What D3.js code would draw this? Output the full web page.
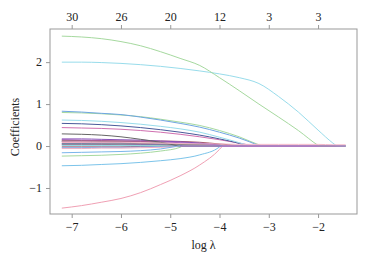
<!DOCTYPE html>
<html><head><meta charset="utf-8">
<script src="https://cdn.jsdelivr.net/npm/d3@7"></script>
<style>body{margin:0;background:#fff}svg{display:block}</style>
</head><body>
<svg id="c" width="367" height="257"></svg>
<script>
// log lambda grid
const logLambda = [-7.2,-6.8,-6.4,-6.0,-5.6,-5.2,-4.8,-4.4,-4.0,-3.6,-3.2,-2.8,-2.4,-2.0,-1.7,-1.44];
const bottomTicks = [-7,-6,-5,-4,-3,-2];
const topTickLabels = ["30","26","20","12","3","3"];
const yTicks = [-1,0,1,2];
// coefficient paths (one array per variable) and the log lambda where each reaches zero
const sGreenBig  = [2.62,2.60,2.56,2.49,2.39,2.25,2.09,1.92,1.63,1.32,1.00,0.69,0.37,0.015,0,0];
const sCyanBig   = [2.00,2.00,1.99,1.97,1.94,1.90,1.85,1.79,1.72,1.63,1.49,1.18,0.81,0.38,0.07,0];
const sBlue1     = [0.83,0.81,0.78,0.75,0.69,0.62,0.54,0.45,0.33,0.19,0.01,0,0,0,0,0];
const sGreen1    = [0.80,0.79,0.77,0.74,0.70,0.64,0.57,0.49,0.37,0.22,0.03,0,0,0,0,0];
const sCyan1     = [0.62,0.61,0.59,0.56,0.52,0.47,0.41,0.33,0.21,0.08,0,0,0,0,0,0];
const sNavy1     = [0.54,0.53,0.51,0.48,0.44,0.39,0.33,0.26,0.17,0.06,0,0,0,0,0,0];
const sPink1     = [0.44,0.43,0.42,0.40,0.37,0.33,0.28,0.22,0.15,0.07,0,0,0,0,0,0];
const sGrey1     = [0.29,0.28,0.26,0.22,0.16,0.09,0,0,0,0,0,0,0,0,0,0];
const sPurple1   = [0.17,0.17,0.16,0.15,0.14,0.12,0.10,0.07,0.02,0,0,0,0,0,0,0];
const sMaroon1   = [0.12,0.12,0.12,0.12,0.12,0.12,0.11,0.09,0.05,0.01,0,0,0,0,0,0];
const sLtPink1   = [0.10,0.10,0.09,0.09,0.08,0.07,0.06,0.05,0.05,0.04,0.04,0.04,0.04,0.04,0.03,0.03];
const sGrey2     = [0.14,0.13,0.12,0.11,0.10,0.08,0.06,0.04,0.01,0,0,0,0,0,0,0];
const sNavy2     = [0.11,0.10,0.09,0.08,0.06,0.04,0,0,0,0,0,0,0,0,0,0];
const sPink2     = [0.08,0.08,0.07,0.07,0.06,0.05,0.03,0,0,0,0,0,0,0,0,0];
const sBlue2     = [0.06,0.06,0.05,0.05,0.04,0.03,0,0,0,0,0,0,0,0,0,0];
const sPurple2   = [0.04,0.04,0.04,0.03,0.03,0.02,0,0,0,0,0,0,0,0,0,0];
const sGreen2    = [0.02,0.02,0.02,0.02,0.01,0.01,0,0,0,0,0,0,0,0,0,0];
const sCyan2     = [0.01,0.01,0.01,0.01,0.01,0,0,0,0,0,0,0,0,0,0,0];
const sMaroon2   = [-0.02,-0.02,-0.02,-0.02,-0.01,-0.01,0,0,0,0,0,0,0,0,0,0];
const sGrey3     = [0.05,0.05,0.05,0.05,0.05,0.05,0.04,0.04,0.02,0,0,0,0,0,0,0];
const sBlue3     = [-0.04,-0.04,-0.03,-0.03,-0.02,-0.01,0,0,0,0,0,0,0,0,0,0];
const sPink3     = [-0.06,-0.06,-0.05,-0.05,-0.04,-0.03,-0.01,0,0,0,0,0,0,0,0,0];
const sPurple3   = [0.15,0.14,0.13,0.12,0.11,0.10,0.08,0.06,0.02,0,0,0,0,0,0,0];
const sLtBlue    = [-0.16,-0.15,-0.14,-0.13,-0.11,-0.07,0,0,0,0,0,0,0,0,0,0];
const sGreenNeg  = [-0.24,-0.23,-0.22,-0.20,-0.17,-0.12,-0.03,0,0,0,0,0,0,0,0,0];
const sBlueNeg   = [-0.47,-0.46,-0.44,-0.42,-0.39,-0.35,-0.30,-0.21,-0.02,0,0,0,0,0,0,0];
const sPinkNeg   = [-1.48,-1.42,-1.34,-1.25,-1.11,-0.92,-0.71,-0.45,-0.08,0,0,0,0,0,0,0];
const zeroAt = {
  sGreenBig:-1.98, sCyanBig:-1.62, sBlue1:-3.18, sGreen1:-3.12, sCyan1:-3.38, sNavy1:-3.45,
  sPink1:-3.3, sGrey1:-4.82, sPurple1:-3.9, sMaroon1:-3.5, sLtPink1:null, sGrey2:-3.95,
  sNavy2:-4.8, sPink2:-4.45, sBlue2:-4.8, sPurple2:-4.8, sGreen2:-4.9, sCyan2:-5.1,
  sMaroon2:-4.9, sGrey3:-3.9, sBlue3:-4.85, sPink3:-4.6, sPurple3:-3.85, sLtBlue:-4.85,
  sGreenNeg:-4.75, sBlueNeg:-3.98, sPinkNeg:-3.94
};

const series = [
  {n:"sGrey2",v:sGrey2,c:"#8a8a8a"},{n:"sNavy2",v:sNavy2,c:"#3b4a86"},{n:"sPink2",v:sPink2,c:"#f2a3bb"},
  {n:"sBlue2",v:sBlue2,c:"#6f9fe0"},{n:"sPurple2",v:sPurple2,c:"#9a58c0"},{n:"sGreen2",v:sGreen2,c:"#a6d99f"},
  {n:"sCyan2",v:sCyan2,c:"#92dbe6"},{n:"sMaroon2",v:sMaroon2,c:"#a05468"},{n:"sGrey3",v:sGrey3,c:"#7a7a7a"},
  {n:"sBlue3",v:sBlue3,c:"#7fb0e8"},{n:"sPink3",v:sPink3,c:"#f0b0c4"},{n:"sPurple3",v:sPurple3,c:"#b060c0"},
  {n:"sMaroon1",v:sMaroon1,c:"#a85a6a"},{n:"sPurple1",v:sPurple1,c:"#8850b8"},{n:"sGrey1",v:sGrey1,c:"#666666"},
  {n:"sPink1",v:sPink1,c:"#d070b0"},{n:"sNavy1",v:sNavy1,c:"#4a5a9a"},{n:"sCyan1",v:sCyan1,c:"#98dceb"},
  {n:"sGreen1",v:sGreen1,c:"#a6d99f"},{n:"sBlue1",v:sBlue1,c:"#6fa6e2"},{n:"sLtBlue",v:sLtBlue,c:"#7ab6ea"},
  {n:"sGreenNeg",v:sGreenNeg,c:"#a6d99f"},{n:"sBlueNeg",v:sBlueNeg,c:"#7cc4ea"},{n:"sPinkNeg",v:sPinkNeg,c:"#f0a0b4"},
  {n:"sCyanBig",v:sCyanBig,c:"#98dceb"},{n:"sGreenBig",v:sGreenBig,c:"#a6d99f"},
  {n:"sLtPink1",v:sLtPink1,c:"#f5b8c8"}
];

const FONT = '"Liberation Serif","Times New Roman",Times,serif';
const svg = d3.select("#c");
const L=50,R=357,T=29,B=214;
const x = d3.scaleLinear().domain([-7.44,-1.21]).range([L,R]);
const y = d3.scaleLinear().domain([-1.62,2.79]).range([B,T]);
const xEnd = logLambda[logLambda.length-1];

const curve = d3.line().x(d=>x(d[0])).y(d=>y(d[1])).curve(d3.curveMonotoneX);
const straight = d3.line().x(d=>x(d[0])).y(d=>y(d[1]));
function pathFor(s){
  const z = zeroAt[s.n];
  const pts = [];
  logLambda.forEach((l,i)=>{ if(z===null || l < z) pts.push([l,s.v[i]]); });
  if(z===null) return curve(pts);
  pts.push([z,0]);
  return curve(pts) + straight([[z,0],[xEnd,0]]).replace(/^M/,"L");
}
const gLines = svg.append("g");
gLines.selectAll("path").data(series).join("path")
  .attr("d",pathFor).attr("fill","none").attr("stroke",d=>d.c).attr("stroke-width",1);
// zero segment drawn last in purple like the reference
gLines.append("path").attr("d",straight([[-4.8,0],[xEnd,0]])).attr("stroke","#a050c0").attr("stroke-width",1).attr("fill","none");

svg.append("rect").attr("x",L).attr("y",T).attr("width",R-L).attr("height",B-T)
  .attr("fill","none").attr("stroke","#999").attr("stroke-width",1);

const fmt = v => v<0 ? "\u2212"+Math.abs(v) : String(v);
const ax = svg.append("g").attr("transform",`translate(0,${B})`)
  .call(d3.axisBottom(x).tickValues(bottomTicks).tickFormat(fmt).tickSize(4).tickPadding(4));
const at = svg.append("g").attr("transform",`translate(0,${T})`)
  .call(d3.axisTop(x).tickValues(bottomTicks).tickFormat((d,i)=>topTickLabels[i]).tickSize(4).tickPadding(4));
const ay = svg.append("g").attr("transform",`translate(${L},0)`)
  .call(d3.axisLeft(y).tickValues(yTicks).tickFormat(fmt).tickSize(4).tickPadding(4));
[ax,at,ay].forEach(g=>{
  g.attr("font-family",FONT).attr("font-size",12);
  g.select(".domain").remove();
  g.selectAll(".tick line").attr("stroke","#999");
  g.selectAll(".tick text").attr("font-family",FONT).attr("font-size",12).attr("fill","#222");
});
svg.append("text").attr("x",(L+R)/2).attr("y",249).attr("text-anchor","middle")
  .attr("font-family",FONT).attr("font-size",12).attr("fill","#222").text("log \u03bb");
svg.append("text").attr("transform","translate(19,127) rotate(-90)").attr("text-anchor","middle")
  .attr("font-family",FONT).attr("font-size",12).attr("fill","#222").text("Coefficients");
</script>
</body></html>
